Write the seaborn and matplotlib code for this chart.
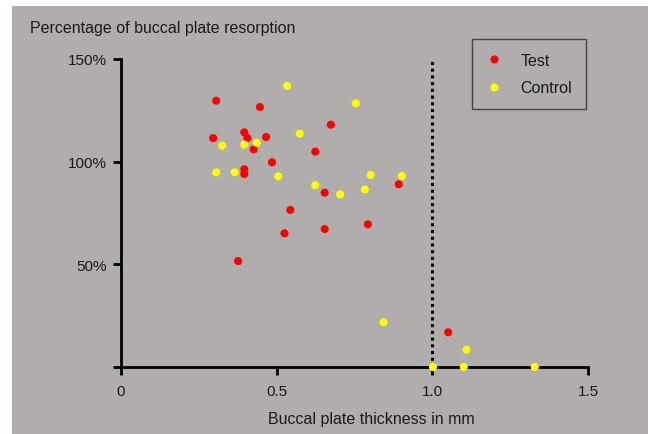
import matplotlib
matplotlib.use("Agg")
import matplotlib.pyplot as plt
import matplotlib.patches as mpatches
import seaborn as sns
import pandas as pd

test_x = [0.306, 0.446, 0.674, 0.296, 0.396, 0.406, 0.466, 0.426, 0.624, 0.485,
          0.396, 0.396, 0.892, 0.654, 0.544, 0.525, 0.654, 0.793, 0.376, 1.051]
test_y = [129.7, 126.6, 118.0, 111.5, 114.3, 111.5, 112.0, 106.0, 104.9, 99.7,
          96.3, 94.0, 89.0, 84.9, 76.5, 65.1, 67.2, 69.5, 51.6, 16.9]
control_x = [0.534, 0.754, 0.574, 0.325, 0.396, 0.436, 0.306, 0.365, 0.505, 0.802,
             0.902, 0.624, 0.704, 0.783, 0.843, 1.110, 1.002, 1.101, 1.329]
control_y = [136.9, 128.4, 113.6, 107.8, 108.3, 109.2, 94.8, 94.8, 92.9, 93.5,
             93.0, 88.5, 84.1, 86.5, 21.8, 8.4, 0.0, 0.0, 0.0]
groups = ["Test", "Control"]
x_ticks = [0, 0.5, 1.0, 1.5]
x_tick_labels = ["0", "0.5", "1.0", "1.5"]
y_ticks = [0, 50, 100, 150]
y_tick_labels = ["", "50%", "100%", "150%"]
threshold = 1.0

df = pd.DataFrame({
    "x": test_x + control_x,
    "y": test_y + control_y,
    "group": [groups[0]] * len(test_x) + [groups[1]] * len(control_x),
})

sns.set_style("white")
plt.rcParams["font.family"] = ["Liberation Sans", "DejaVu Sans"]

bg = "#b0adac"
txt = "#1a1a1a"
fig = plt.figure(figsize=(6.48, 4.35), dpi=100)
fig.patch.set_facecolor("white")
fig.patches.append(mpatches.Rectangle((12 / 648, 0), 1, 1 - 7 / 435,
                                      transform=fig.transFigure, facecolor=bg,
                                      edgecolor="none", zorder=-10))
ax = fig.add_axes([121 / 648, 1 - 368 / 435, (588 - 121) / 648, (368 - 60) / 435])
ax.set_facecolor(bg)
ax.patch.set_alpha(0)

ax.axvline(threshold, ymin=0, ymax=1, color="black", lw=2.2,
           linestyle=(0, (1, 1.2)), zorder=2)

sns.scatterplot(data=df, x="x", y="y", hue="group",
                palette={"Test": "#ff0000", "Control": "#ffff00"},
                s=34, edgecolor="none", linewidth=0, ax=ax, zorder=3,
                clip_on=False, legend=True)

ax.set_xlim(0, 1.5)
ax.set_ylim(0, 150)
ax.set_xticks(x_ticks)
ax.set_xticklabels(x_tick_labels)
ax.set_yticks(y_ticks)
ax.set_yticklabels(y_tick_labels)
for side in ["top", "right"]:
    ax.spines[side].set_visible(False)
for side in ["left", "bottom"]:
    ax.spines[side].set_linewidth(2)
    ax.spines[side].set_color("black")
ax.tick_params(axis="both", direction="out", length=6, width=2, color="black",
               labelsize=11, labelcolor=txt, bottom=True, left=True)
ax.tick_params(axis="x", pad=6)
ax.tick_params(axis="y", pad=4)
ax.set_xlabel("")
ax.set_ylabel("")

fig.text(30 / 648, 1 - 28 / 435, "Percentage of buccal plate resorption",
         fontsize=11.5, color=txt, va="center", ha="left")
fig.text(371 / 648, 1 - 420 / 435, "Buccal plate thickness in mm",
         fontsize=11.5, color=txt, va="center", ha="center")

handles, labels = ax.get_legend_handles_labels()
leg = ax.legend(handles, labels, loc="upper left",
                bbox_to_anchor=((472 - 121) / 467, 1 + (60 - 40) / 308),
                frameon=True, fancybox=False, edgecolor="#444444",
                facecolor=bg, framealpha=1, fontsize=11.5, markerscale=1.0,
                handlelength=1.0, handletextpad=1.2, borderpad=0.85,
                labelspacing=0.8, borderaxespad=0)
leg.get_frame().set_linewidth(1)
for t in leg.get_texts():
    t.set_color(txt)

fig.savefig("out.png", dpi=100, facecolor="white")
